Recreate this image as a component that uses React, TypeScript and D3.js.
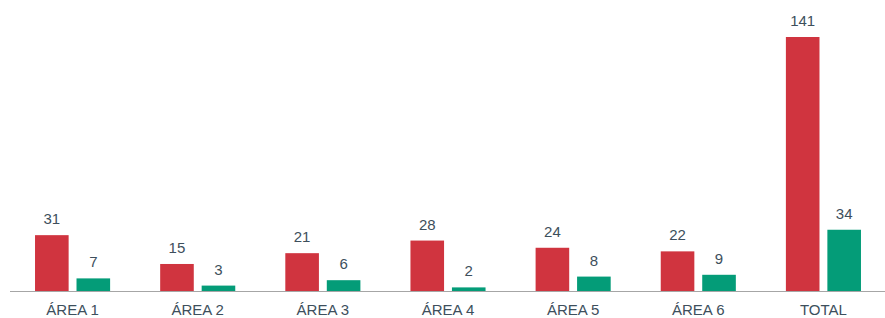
import React, { useEffect, useRef } from 'react';
import * as d3 from 'd3';

// data
const categories = ['ÁREA 1', 'ÁREA 2', 'ÁREA 3', 'ÁREA 4', 'ÁREA 5', 'ÁREA 6', 'TOTAL'];
const seriesNames = ['red', 'green'];
const redValues = [31, 15, 21, 28, 24, 22, 141];
const greenValues = [7, 3, 6, 2, 8, 9, 34];

const colors: Record<string, string> = { red: '#d0343f', green: '#049c78' };

const App = () => {
  const ref = useRef<SVGSVGElement>(null);

  useEffect(() => {
    if (!ref.current) return;
    const width = 885;
    const height = 318;
    const baseline = 291;

    const svg = d3.select(ref.current);
    svg.selectAll('*').remove();
    svg.attr('width', width).attr('height', height);

    const rows = categories.map((c, i) => ({
      category: c,
      values: [
        { key: 'red', value: redValues[i] },
        { key: 'green', value: greenValues[i] },
      ],
    }));

    const x0 = d3.scaleBand().domain(categories).range([10, 886]).paddingInner(0.4).paddingOuter(0.2);
    const x1 = d3.scaleBand().domain(seriesNames).range([0, x0.bandwidth()]).paddingInner(0.19);
    const y = d3.scaleLinear().domain([0, 141]).range([baseline, 37]);

    const groups = svg.selectAll('.group')
      .data(rows)
      .enter().append('g')
      .attr('transform', d => `translate(${x0(d.category)},0)`);

    groups.selectAll('rect')
      .data(d => d.values)
      .enter().append('rect')
      .attr('x', d => x1(d.key)!)
      .attr('y', d => y(d.value))
      .attr('width', x1.bandwidth())
      .attr('height', d => baseline - y(d.value))
      .attr('fill', d => colors[d.key]);

    groups.selectAll('text.val')
      .data(d => d.values)
      .enter().append('text')
      .attr('class', 'val')
      .attr('x', d => x1(d.key)! + x1.bandwidth() / 2)
      .attr('y', d => y(d.value) - 11)
      .attr('text-anchor', 'middle')
      .attr('font-family', 'Liberation Sans, Arial, sans-serif')
      .attr('font-size', 15)
      .attr('fill', '#3d4f5c')
      .text(d => d.value);

    // axis line
    svg.append('line')
      .attr('x1', 10).attr('x2', 885)
      .attr('y1', baseline + 0.5).attr('y2', baseline + 0.5)
      .attr('stroke', '#a6a6a6').attr('stroke-width', 1);

    svg.selectAll('text.cat')
      .data(categories)
      .enter().append('text')
      .attr('class', 'cat')
      .attr('x', d => x0(d)! + x0.bandwidth() / 2)
      .attr('y', 315)
      .attr('text-anchor', 'middle')
      .attr('font-family', 'Liberation Sans, Arial, sans-serif')
      .attr('font-size', 15)
      .attr('fill', '#3d4f5c')
      .text(d => d);
  }, []);

  return <svg ref={ref} style={{ position: 'absolute', left: 0, top: 0 }} />;
};

export default App;
